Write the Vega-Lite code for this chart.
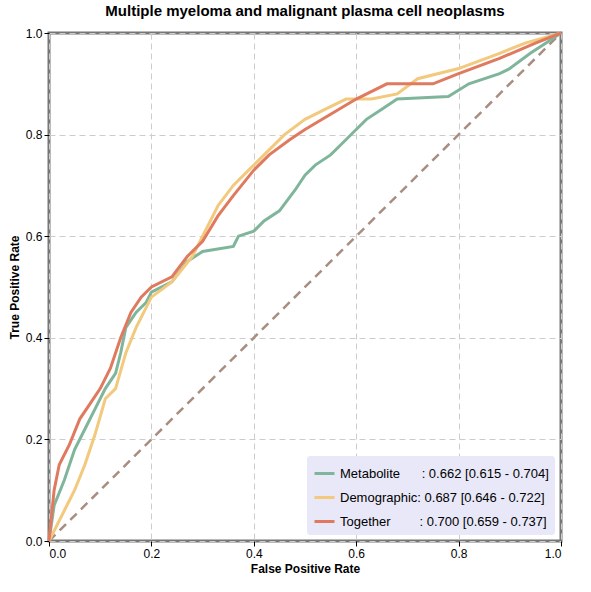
{
  "$schema": "https://vega.github.io/schema/vega-lite/v6.json",
  "width": 512,
  "height": 508,
  "background": "#fff",
  "padding": {"left": 8, "top": 4, "right": 18, "bottom": 4},
  "config": {
    "font": "Liberation Sans",
    "view": {"stroke": "#777", "strokeWidth": 3},
    "axis": {"grid": true, "gridDash": [6, 4], "gridColor": "#ccc", "domain": false, "tickColor": "#000", "labelColor": "#000", "labelFontSize": 12, "titleFontSize": 12, "titleFontWeight": "bold", "titleColor": "#000", "tickCount": 5}
  },
  "title": {"text": "Multiple myeloma and malignant plasma cell neoplasms", "fontSize": 15, "fontWeight": "bold", "color": "#000", "offset": 8},
  "datasets": {
    "roc": [
      {"m": "Metabolite", "fpr": 0, "tpr": 0}, {"m": "Metabolite", "fpr": 0.01, "tpr": 0.07}, {"m": "Metabolite", "fpr": 0.03, "tpr": 0.12},
      {"m": "Metabolite", "fpr": 0.05, "tpr": 0.18}, {"m": "Metabolite", "fpr": 0.07, "tpr": 0.22}, {"m": "Metabolite", "fpr": 0.09, "tpr": 0.26},
      {"m": "Metabolite", "fpr": 0.11, "tpr": 0.3}, {"m": "Metabolite", "fpr": 0.13, "tpr": 0.33}, {"m": "Metabolite", "fpr": 0.14, "tpr": 0.37},
      {"m": "Metabolite", "fpr": 0.15, "tpr": 0.42}, {"m": "Metabolite", "fpr": 0.17, "tpr": 0.45}, {"m": "Metabolite", "fpr": 0.19, "tpr": 0.47},
      {"m": "Metabolite", "fpr": 0.2, "tpr": 0.49}, {"m": "Metabolite", "fpr": 0.24, "tpr": 0.51}, {"m": "Metabolite", "fpr": 0.27, "tpr": 0.55},
      {"m": "Metabolite", "fpr": 0.3, "tpr": 0.57}, {"m": "Metabolite", "fpr": 0.36, "tpr": 0.58}, {"m": "Metabolite", "fpr": 0.37, "tpr": 0.6},
      {"m": "Metabolite", "fpr": 0.4, "tpr": 0.61}, {"m": "Metabolite", "fpr": 0.42, "tpr": 0.63}, {"m": "Metabolite", "fpr": 0.45, "tpr": 0.65},
      {"m": "Metabolite", "fpr": 0.48, "tpr": 0.69}, {"m": "Metabolite", "fpr": 0.5, "tpr": 0.72}, {"m": "Metabolite", "fpr": 0.52, "tpr": 0.74},
      {"m": "Metabolite", "fpr": 0.55, "tpr": 0.76}, {"m": "Metabolite", "fpr": 0.57, "tpr": 0.78}, {"m": "Metabolite", "fpr": 0.6, "tpr": 0.81},
      {"m": "Metabolite", "fpr": 0.62, "tpr": 0.83}, {"m": "Metabolite", "fpr": 0.65, "tpr": 0.85}, {"m": "Metabolite", "fpr": 0.68, "tpr": 0.87},
      {"m": "Metabolite", "fpr": 0.78, "tpr": 0.875}, {"m": "Metabolite", "fpr": 0.82, "tpr": 0.9}, {"m": "Metabolite", "fpr": 0.88, "tpr": 0.92},
      {"m": "Metabolite", "fpr": 0.9, "tpr": 0.93}, {"m": "Metabolite", "fpr": 0.94, "tpr": 0.96}, {"m": "Metabolite", "fpr": 0.97, "tpr": 0.98},
      {"m": "Metabolite", "fpr": 1, "tpr": 1},
      {"m": "Demographic", "fpr": 0, "tpr": 0}, {"m": "Demographic", "fpr": 0.01, "tpr": 0.02}, {"m": "Demographic", "fpr": 0.03, "tpr": 0.06},
      {"m": "Demographic", "fpr": 0.05, "tpr": 0.1}, {"m": "Demographic", "fpr": 0.07, "tpr": 0.15}, {"m": "Demographic", "fpr": 0.09, "tpr": 0.21},
      {"m": "Demographic", "fpr": 0.11, "tpr": 0.28}, {"m": "Demographic", "fpr": 0.13, "tpr": 0.3}, {"m": "Demographic", "fpr": 0.15, "tpr": 0.37},
      {"m": "Demographic", "fpr": 0.17, "tpr": 0.42}, {"m": "Demographic", "fpr": 0.2, "tpr": 0.48}, {"m": "Demographic", "fpr": 0.24, "tpr": 0.51},
      {"m": "Demographic", "fpr": 0.28, "tpr": 0.56}, {"m": "Demographic", "fpr": 0.3, "tpr": 0.6}, {"m": "Demographic", "fpr": 0.33, "tpr": 0.66},
      {"m": "Demographic", "fpr": 0.36, "tpr": 0.7}, {"m": "Demographic", "fpr": 0.39, "tpr": 0.73}, {"m": "Demographic", "fpr": 0.42, "tpr": 0.76},
      {"m": "Demographic", "fpr": 0.46, "tpr": 0.8}, {"m": "Demographic", "fpr": 0.5, "tpr": 0.83}, {"m": "Demographic", "fpr": 0.54, "tpr": 0.85},
      {"m": "Demographic", "fpr": 0.58, "tpr": 0.87}, {"m": "Demographic", "fpr": 0.63, "tpr": 0.87}, {"m": "Demographic", "fpr": 0.68, "tpr": 0.88},
      {"m": "Demographic", "fpr": 0.72, "tpr": 0.91}, {"m": "Demographic", "fpr": 0.8, "tpr": 0.93}, {"m": "Demographic", "fpr": 0.88, "tpr": 0.96},
      {"m": "Demographic", "fpr": 0.93, "tpr": 0.98}, {"m": "Demographic", "fpr": 1, "tpr": 1},
      {"m": "Together", "fpr": 0, "tpr": 0}, {"m": "Together", "fpr": 0.005, "tpr": 0.05}, {"m": "Together", "fpr": 0.01, "tpr": 0.1},
      {"m": "Together", "fpr": 0.02, "tpr": 0.15}, {"m": "Together", "fpr": 0.04, "tpr": 0.19}, {"m": "Together", "fpr": 0.06, "tpr": 0.24},
      {"m": "Together", "fpr": 0.08, "tpr": 0.27}, {"m": "Together", "fpr": 0.1, "tpr": 0.3}, {"m": "Together", "fpr": 0.12, "tpr": 0.34},
      {"m": "Together", "fpr": 0.14, "tpr": 0.4}, {"m": "Together", "fpr": 0.16, "tpr": 0.45}, {"m": "Together", "fpr": 0.18, "tpr": 0.48},
      {"m": "Together", "fpr": 0.2, "tpr": 0.5}, {"m": "Together", "fpr": 0.24, "tpr": 0.52}, {"m": "Together", "fpr": 0.27, "tpr": 0.56},
      {"m": "Together", "fpr": 0.3, "tpr": 0.59}, {"m": "Together", "fpr": 0.33, "tpr": 0.64}, {"m": "Together", "fpr": 0.36, "tpr": 0.68},
      {"m": "Together", "fpr": 0.4, "tpr": 0.73}, {"m": "Together", "fpr": 0.43, "tpr": 0.76}, {"m": "Together", "fpr": 0.47, "tpr": 0.79},
      {"m": "Together", "fpr": 0.5, "tpr": 0.81}, {"m": "Together", "fpr": 0.55, "tpr": 0.84}, {"m": "Together", "fpr": 0.6, "tpr": 0.87},
      {"m": "Together", "fpr": 0.66, "tpr": 0.9}, {"m": "Together", "fpr": 0.75, "tpr": 0.9}, {"m": "Together", "fpr": 0.8, "tpr": 0.92},
      {"m": "Together", "fpr": 0.88, "tpr": 0.95}, {"m": "Together", "fpr": 0.95, "tpr": 0.98}, {"m": "Together", "fpr": 1, "tpr": 1}
    ],
    "diag": [{"fpr": 0, "tpr": 0}, {"fpr": 1, "tpr": 1}]
  },
  "layer": [
    {
      "data": {"name": "diag"},
      "mark": {"type": "line", "color": "#A88D80", "strokeWidth": 2.5, "strokeDash": [9, 6]},
      "encoding": {
        "x": {"field": "fpr", "type": "quantitative", "scale": {"domain": [0, 1]}, "title": "False Positive Rate"},
        "y": {"field": "tpr", "type": "quantitative", "scale": {"domain": [0, 1]}, "title": "True Positive Rate"}
      }
    },
    {
      "data": {"name": "roc"},
      "mark": {"type": "line", "strokeWidth": 3},
      "encoding": {
        "x": {"field": "fpr", "type": "quantitative"},
        "y": {"field": "tpr", "type": "quantitative"},
        "order": {"field": "fpr"},
        "color": {
          "field": "m", "type": "nominal",
          "sort": ["Metabolite", "Demographic", "Together"],
          "scale": {"domain": ["Metabolite", "Demographic", "Together"], "range": ["#7FB69B", "#F2C97D", "#E07A5F"]},
          "legend": {
            "title": null, "orient": "bottom-right", "offset": 6,
            "fillColor": "#E8E8F8", "padding": 6, "cornerRadius": 3,
            "symbolType": "stroke", "symbolStrokeWidth": 3, "symbolSize": 400,
            "labelFontSize": 13, "labelColor": "#000", "rowPadding": 5, "labelLimit": 0,
            "labelExpr": "datum.label == 'Metabolite' ? 'Metabolite\u00a0\u00a0\u00a0\u00a0\u00a0\u00a0: 0.662 [0.615 - 0.704]' : datum.label == 'Demographic' ? 'Demographic: 0.687 [0.646 - 0.722]' : 'Together\u00a0\u00a0\u00a0\u00a0\u00a0\u00a0\u00a0\u00a0: 0.700 [0.659 - 0.737]'"
          }
        }
      }
    }
  ]
}
